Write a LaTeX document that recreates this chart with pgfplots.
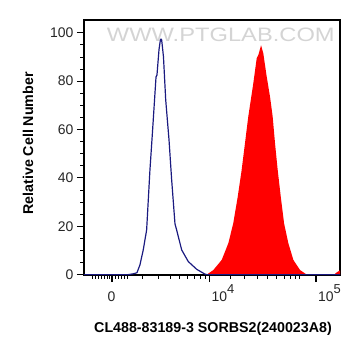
\documentclass[border=0pt]{standalone}
\usepackage{pgfplots}
\pgfplotsset{compat=1.18}
\usepackage{fontspec}
\setmainfont{Liberation Sans}
\definecolor{bluel}{HTML}{1A1A80}
\definecolor{redf}{HTML}{FF0000}
\begin{document}
\begin{tikzpicture}
\begin{axis}[
  scale only axis, width=256bp, height=255bp,
  xmin=2.822, xmax=5.225, ymin=-0.15, ymax=105.25,
  axis line style={line width=1.1pt, black},
  tick align=outside, xtick pos=bottom, ytick pos=left,
  major tick length=7bp, minor tick length=3.5bp,
  every tick/.style={black, line width=1.1pt},
  minor tick style={line width=0.7pt},
  /pgf/number format/assume math mode=true,
  ticklabel style={font=\fontsize{14}{16}\selectfont, text=black!85},
  ytick={0,20,40,60,80,100}, minor y tick num=3,
  xtick={4,5},
  xticklabels={10\raisebox{0.55em}{\fontsize{13}{13}\selectfont 4}, 10\raisebox{0.55em}{\fontsize{13}{13}\selectfont 5}},
  xticklabel style={anchor=north west, xshift=-1.5bp, text height=16bp},
  extra x ticks={3.085},
  extra x tick labels={0},
  extra x tick style={xticklabel style={anchor=north, xshift=1bp, text height=16bp}},
  minor xtick={2.897,2.925,2.953,2.981,3.009,3.038,3.061,3.117,3.141,3.169,3.197,3.225,3.366,3.516,3.629,3.714,3.789,3.854,3.911,3.958,4.192,4.329,4.451,4.545,4.624,4.700,4.756,4.803,4.845},
  xlabel={CL488-83189-3 SORBS2(240023A8)},
  ylabel={Relative Cell Number},
  label style={font=\bfseries\fontsize{14.3}{16}\selectfont},
  xlabel style={at={(axis description cs:0.504,-0.212)}, anchor=center},
  ylabel style={at={(axis description cs:-0.219,0.516)}, anchor=center},
]
\node[text=black!17, font=\fontsize{19.5}{20}\selectfont, xscale=1.22, inner sep=0pt] at (axis cs:4.106,99.2) {WWW.PTGLAB.COM};
\addplot[draw=none, fill=redf] coordinates {
(3.974,0) (4.036,1.9) (4.115,6.1) (4.177,13) (4.223,21.2) (4.265,32.2) (4.302,43.3) (4.333,54.3) (4.364,65.3) (4.411,79) (4.443,89.4) (4.460,91) (4.484,94.8) (4.505,91.5) (4.537,81.8) (4.568,73.6) (4.593,65.3) (4.615,54.3) (4.640,43.3) (4.669,32.2) (4.700,21.2) (4.740,13) (4.787,6.1) (4.850,1.9) (4.913,0)
} -- cycle;
\addplot[draw=none, fill=redf] coordinates {
(5.169,0) (5.197,1.0) (5.225,1.8) (5.225,0)
} -- cycle;
\addplot[bluel, line width=1.2pt, line join=round] coordinates {
(2.822,0) (3.238,0) (3.290,0.4) (3.319,0.8) (3.347,4) (3.378,10.2) (3.410,18.5) (3.441,43.3) (3.466,59.8) (3.498,81.7) (3.507,82.5) (3.526,93) (3.540,97.3) (3.550,97.3) (3.556,95) (3.568,90) (3.589,72.2) (3.620,55.7) (3.645,39.1) (3.676,21) (3.692,18.4) (3.739,10.2) (3.801,5.4) (3.880,2.2) (3.958,0.2) (3.977,0) (5.225,0)
};
\end{axis}
\path ([shift={(-84bp,-81bp)}]current axis.south west) rectangle ([shift={(21bp,20bp)}]current axis.north east);
\end{tikzpicture}
\end{document}
